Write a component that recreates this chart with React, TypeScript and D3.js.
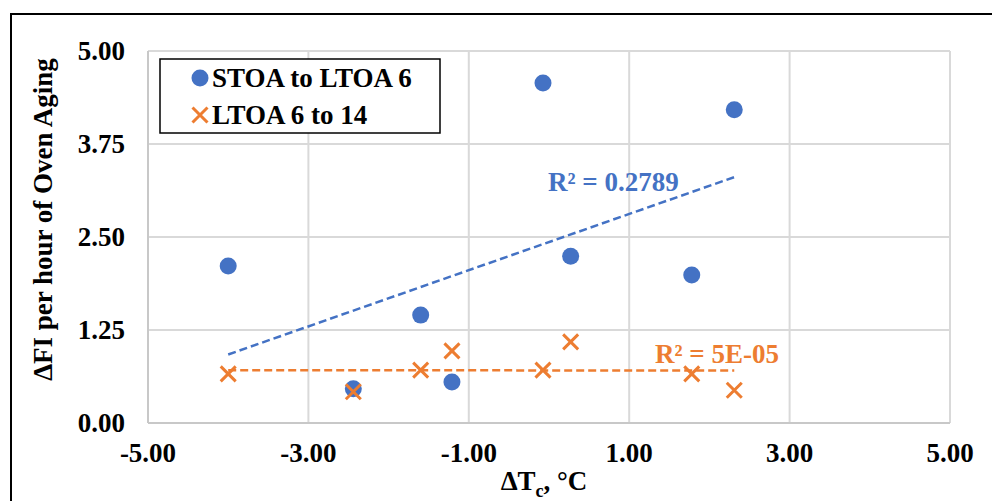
import React from "react";
import * as d3 from "d3";

const xValues = [-4.0, -2.44, -1.6, -1.21, -0.075, 0.27, 1.78, 2.31];
const stoaY = [2.11, 0.46, 1.45, 0.55, 4.57, 2.24, 1.99, 4.21];
const ltoaY = [0.66, 0.42, 0.71, 0.97, 0.71, 1.09, 0.66, 0.44];
const xTicks = [-5, -3, -1, 1, 3, 5];
const yTicks = [0, 1.25, 2.5, 3.75, 5];
const seriesNames = ["STOA to LTOA 6", "LTOA 6 to 14"];
const r2Labels = ["R² = 0.2789", "R² = 5E-05"];

const W = 992;
const H = 501;
const BLUE = "#4472C4";
const ORANGE = "#ED7D31";
const FONT = "'Liberation Serif', 'Times New Roman', serif";
const FS = 27;

const fmt = (v: number) => d3.format(".2f")(v).replace("\u2212", "-");

function regress(xs: number[], ys: number[]) {
  const mx = d3.mean(xs)!;
  const my = d3.mean(ys)!;
  let sxy = 0, sxx = 0;
  xs.forEach((x, i) => {
    sxy += (x - mx) * (ys[i] - my);
    sxx += (x - mx) * (x - mx);
  });
  const slope = sxy / sxx;
  return { slope, intercept: my - slope * mx };
}

export default function App() {
  const x = d3.scaleLinear().domain([-5, 5]).range([148, 950]);
  const y = d3.scaleLinear().domain([0, 5]).range([423, 51]);
  const [xmin, xmax] = d3.extent(xValues) as [number, number];
  const line = d3.line<[number, number]>().x((d) => x(d[0])).y((d) => y(d[1]));

  const trend = (ys: number[]) => {
    const { slope, intercept } = regress(xValues, ys);
    return line([
      [xmin, slope * xmin + intercept],
      [xmax, slope * xmax + intercept],
    ]) as string;
  };

  const cross = (cx: number, cy: number, s: number) =>
    `M${cx - s},${cy - s}L${cx + s},${cy + s}M${cx - s},${cy + s}L${cx + s},${cy - s}`;

  return (
    <svg
      width={W}
      height={H}
      style={{ position: "absolute", left: 0, top: 0, background: "#fff" }}
      fontFamily={FONT}
      fontWeight="bold"
    >
      <rect x={11} y={14} width={1000} height={520} fill="#fff" stroke="#000" strokeWidth={2} />
      {/* grid */}
      {xTicks.map((t) => (
        <line key={"gx" + t} x1={x(t)} x2={x(t)} y1={y(0)} y2={y(5)} stroke="#d9d9d9" strokeWidth={2} />
      ))}
      {yTicks.map((t) => (
        <line key={"gy" + t} x1={x(-5)} x2={x(5)} y1={y(t)} y2={y(t)} stroke="#d9d9d9" strokeWidth={2} />
      ))}
      <line x1={x(-5)} x2={x(5)} y1={y(0)} y2={y(0)} stroke="#c8c8c8" strokeWidth={2} />
      <line x1={x(-5)} x2={x(-5)} y1={y(0)} y2={y(5)} stroke="#c8c8c8" strokeWidth={2} />
      {/* tick labels */}
      {yTicks.map((t) => (
        <text key={"ty" + t} x={125} y={y(t)} dy="0.34em" textAnchor="end" fontSize={FS} fill="#000">
          {fmt(t)}
        </text>
      ))}
      {xTicks.map((t) => (
        <text key={"tx" + t} x={x(t)} y={462} textAnchor="middle" fontSize={FS} fill="#000">
          {fmt(t)}
        </text>
      ))}
      {/* axis titles */}
      <text
        transform={`translate(52,${219.5}) rotate(-90)`}
        textAnchor="middle"
        fontSize={FS}
        fill="#000"
      >
        ΔFI per hour of Oven Aging
      </text>
      <text x={544} y={490} textAnchor="middle" fontSize={FS} fill="#000">
        ΔT<tspan dy={7} fontSize={18}>c</tspan>
        <tspan dy={-7}>, °C</tspan>
      </text>
      {/* trendlines */}
      <path d={trend(stoaY)} fill="none" stroke={BLUE} strokeWidth={2.5} strokeDasharray="8,4" />
      <path d={trend(ltoaY)} fill="none" stroke={ORANGE} strokeWidth={2.5} strokeDasharray="8,4" />
      {/* points */}
      {xValues.map((xv, i) => (
        <circle key={"c" + i} cx={x(xv)} cy={y(stoaY[i])} r={8.5} fill={BLUE} />
      ))}
      {xValues.map((xv, i) => (
        <path key={"x" + i} d={cross(x(xv), y(ltoaY[i]), 7.5)} stroke={ORANGE} strokeWidth={3} fill="none" />
      ))}
      {/* R2 labels */}
      <text x={548} y={191} fontSize={FS} fill={BLUE}>{r2Labels[0]}</text>
      <text x={655} y={363} fontSize={FS} fill={ORANGE}>{r2Labels[1]}</text>
      {/* legend */}
      <rect x={160} y={59} width={280} height={74} fill="#fff" stroke="#000" strokeWidth={1.5} />
      <circle cx={200} cy={78} r={8.5} fill={BLUE} />
      <path d={cross(200, 115, 7.5)} stroke={ORANGE} strokeWidth={3} fill="none" />
      <text x={212} y={87} fontSize={FS} fill="#000">{seriesNames[0]}</text>
      <text x={212} y={124} fontSize={FS} fill="#000">{seriesNames[1]}</text>
    </svg>
  );
}
